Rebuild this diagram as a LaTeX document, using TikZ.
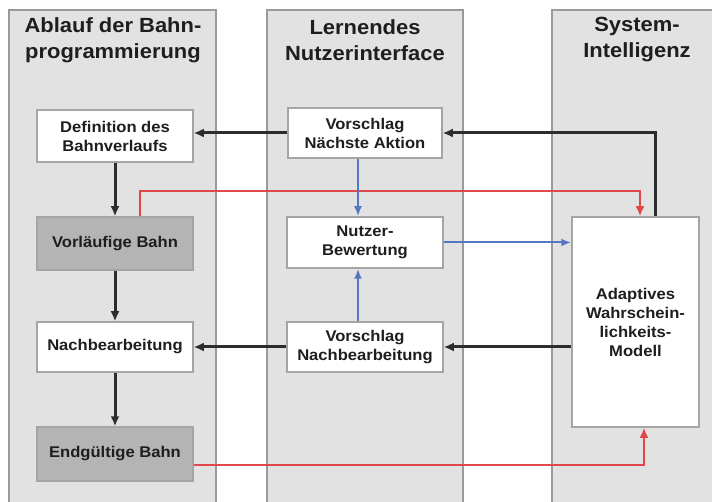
\documentclass[tikz,border=0pt]{standalone}
\usepackage{fontspec}
\setmainfont{Liberation Sans}[FakeStretch=1.07]
\usetikzlibrary{arrows.meta}
\definecolor{lanefill}{HTML}{E2E2E2}
\definecolor{laneline}{HTML}{9A9A9A}
\definecolor{boxline}{HTML}{A5A5A5}
\definecolor{darkbox}{HTML}{B4B4B4}
\definecolor{txt}{HTML}{1E1E1E}
\definecolor{redline}{HTML}{E0474A}
\definecolor{blueline}{HTML}{5577C2}
\definecolor{blackline}{HTML}{2C2C2C}
\tikzset{
  lane/.style={fill=lanefill, draw=laneline, line width=1.2pt},
  title/.style={font=\bfseries\fontsize{20.5}{26}\selectfont, text=txt, align=center, inner sep=0pt},
  box/.style={draw=boxline, fill=white, line width=1.5pt, font=\bfseries\fontsize{15.5}{19}\selectfont, text=txt, align=center, inner sep=0pt},
  dbox/.style={box, fill=darkbox},
  blk/.style={draw=blackline, line width=3pt, -{Latex[length=10pt,width=9pt]}},
  rd/.style={draw=redline, line width=2.5pt, -{Latex[length=10pt,width=9pt]}},
  bl/.style={draw=blueline, line width=2pt, -{Latex[length=10pt,width=8pt]}},
}
\begin{document}
\begin{tikzpicture}[x=1pt,y=-1pt]
\useasboundingbox (0,0) rectangle (712,502);
\fill[white] (0,0) rectangle (712,502);
% lanes
\draw[lane] (9,10) rectangle (216,510);
\draw[lane] (267,10) rectangle (463,510);
\draw[lane] (552,10) rectangle (730,510);
% titles
\node[title] (t1) at (113,40) {Ablauf der Bahn-\\programmierung};
\node[title] (t2) at (365,40) {Lernendes\\Nutzerinterface};
\node[title] (t3) at (637,40) {System-\\Intelligenz};
% boxes
\node[box, minimum width=156, minimum height=52] (def) at (115,136) {Definition des\\Bahnverlaufs};
\node[dbox, minimum width=156, minimum height=53] (vor) at (115,243.5) {Vorläufige Bahn};
\node[box, minimum width=156, minimum height=50] (nach) at (115,347) {Nachbearbeitung};
\node[dbox, minimum width=156, minimum height=54] (end) at (115,454) {Endgültige Bahn};
\node[box, minimum width=154, minimum height=50] (vna) at (365,133) {Vorschlag\\Nächste Aktion};
\node[box, minimum width=156, minimum height=51] (nb) at (365,242.5) {Nutzer-\\Bewertung};
\node[box, minimum width=156, minimum height=50] (vnb) at (365,347) {Vorschlag\\Nachbearbeitung};
\node[box, minimum width=127, minimum height=210] (model) at (635.5,322) {Adaptives\\Wahrschein-\\lichkeits-\\Modell};
% black connectors
\draw[blk] (vna.west) -- (vna.west -| def.east);
\draw[blk] ([xshift=19.5pt]model.north) |- (vna.east);
\draw[blk] (def.south) -- (vor.north);
\draw[blk] (vor.south) -- (nach.north);
\draw[blk] (nach.south) -- (end.north);
\draw[blk] (model.west |- vnb.east) -- (vnb.east);
\draw[blk] (vnb.west) -- (nach.east);
% red connectors
\coordinate (rtop) at (140,191);
\draw[rd] ([xshift=25pt]vor.north) -- (rtop) -| ([xshift=4.5pt]model.north);
\coordinate (rbot) at (end.east |- 0,465);
\draw[rd] (rbot) -| ([xshift=8.5pt]model.south);
% blue connectors
\draw[bl] ([xshift=-7pt]vna.south) -- ([xshift=-7pt]nb.north);
\draw[bl] ([xshift=-7pt]vnb.north) -- ([xshift=-7pt]nb.south);
\draw[bl] (nb.east) -- (nb.east -| model.west);
\end{tikzpicture}
\end{document}
